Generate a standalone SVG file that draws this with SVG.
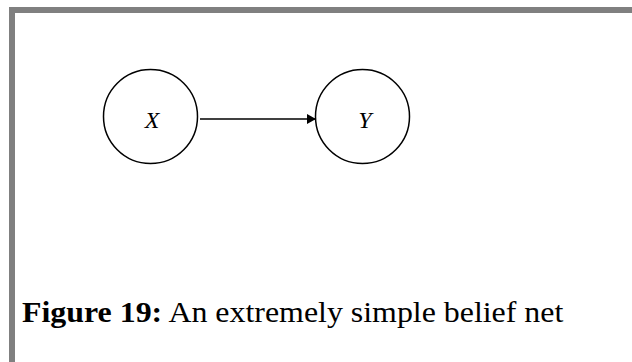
<svg xmlns="http://www.w3.org/2000/svg" width="632" height="362" viewBox="0 0 632 362">
<style>
.node{fill:none;stroke:#000;stroke-width:1.5}
.lbl{font-family:"Liberation Serif","Times New Roman",serif;font-style:italic;font-size:24px;fill:#000;text-anchor:middle}
.cap{font-family:"Liberation Serif","Times New Roman",serif;font-size:29px;fill:#000}
.edge{stroke:#000;stroke-width:1.5;fill:none}
</style>
<defs>
<marker id="arr" markerWidth="10" markerHeight="10" refX="9" refY="5" orient="auto" markerUnits="userSpaceOnUse">
<path d="M0,0 L9,5 L0,10 Z" fill="#000"/>
</marker>
</defs>
<rect x="0" y="0" width="632" height="362" fill="#fff"/>
<path d="M12,362 V10 H632" fill="none" stroke="#808080" stroke-width="6"/>
<g id="node-X">
<circle class="node" cx="150.5" cy="116.5" r="47"/>
<text class="lbl" x="152" y="128.3">X</text>
</g>
<g id="node-Y">
<circle class="node" cx="362.5" cy="116.5" r="47"/>
<text class="lbl" x="365" y="128.3">Y</text>
</g>
<g id="connectors">
<line class="edge" x1="200" y1="119" x2="316" y2="119" marker-end="url(#arr)"/>
</g>
<text class="cap" transform="translate(22,321.7) scale(1.1,1)"><tspan font-weight="bold">Figure 19:</tspan> An extremely simple belief net</text>
</svg>
